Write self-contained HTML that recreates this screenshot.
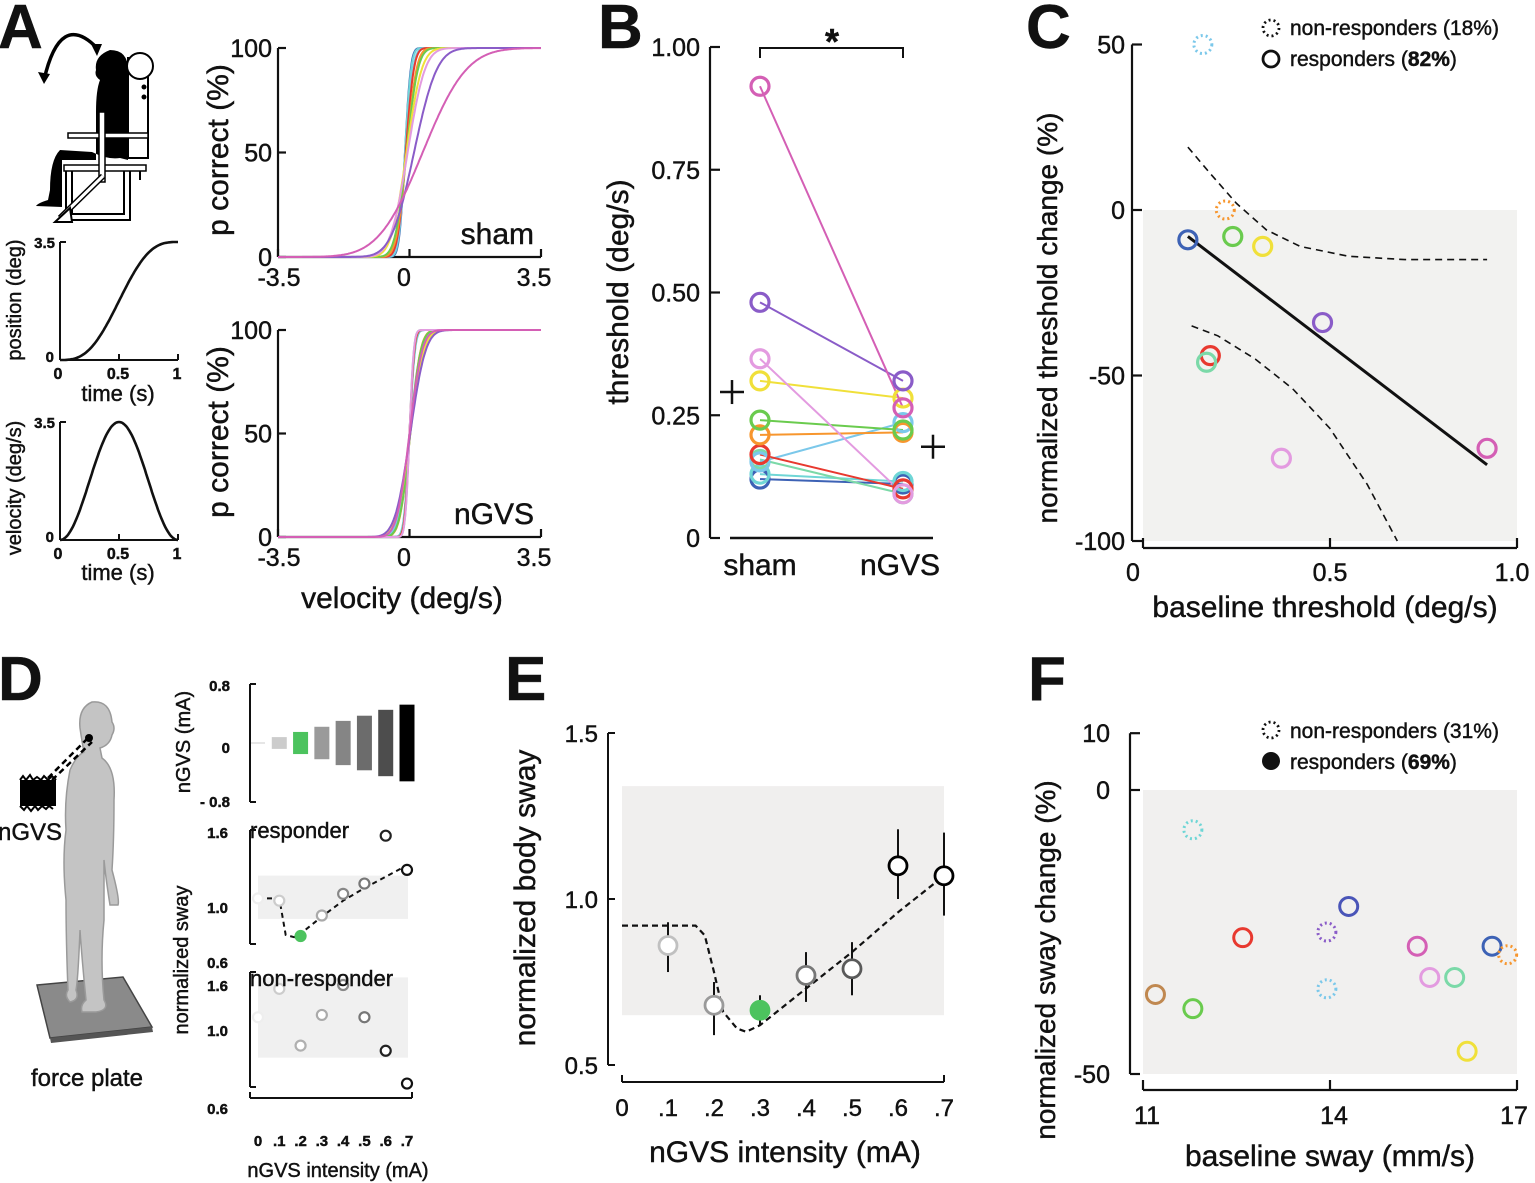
<!DOCTYPE html>
<html><head><meta charset="utf-8"><style>
html,body{margin:0;padding:0;background:#fff;}
svg{display:block;font-family:"Liberation Sans",Arial,sans-serif;}
.t{fill:#111;}
text{stroke:#111;stroke-width:0.45;}
.ax{stroke:#111;stroke-width:2.2;fill:none;}
</style></head><body>
<svg id="fig" width="1535" height="1183" viewBox="0 0 1535 1183" xmlns="http://www.w3.org/2000/svg">
<g id="plots"></g>
<!-- Panel letters -->
<text x="-2" y="48" font-size="62" font-weight="bold" class="t">A</text>
<text x="598" y="48" font-size="62" font-weight="bold" class="t">B</text>
<text x="1026" y="48" font-size="62" font-weight="bold" class="t">C</text>
<text x="-2" y="700" font-size="62" font-weight="bold" class="t">D</text>
<text x="505" y="700" font-size="62" font-weight="bold" class="t">E</text>
<text x="1028" y="700" font-size="62" font-weight="bold" class="t">F</text>

<!-- Chair illustration -->
<g>
<path d="M44 80 Q60 10 97 48" stroke="#000" stroke-width="3.5" fill="none"/>
<polygon points="38,72 50,74 44,84" fill="#000"/>
<polygon points="91,44 102,44 97,56" fill="#000"/>
<rect x="128" y="58" width="20" height="100" fill="#fff" stroke="#000" stroke-width="2"/>
<circle cx="140" cy="66" r="13" fill="#fff" stroke="#000" stroke-width="2"/>
<circle cx="144" cy="87" r="2.5" fill="#000"/><circle cx="144" cy="97" r="2.5" fill="#000"/>
<path d="M110 50 Q128 50 128 70 L128 160 L120 158 Q108 160 92 152 L60 150 Q50 160 50 190 L48 200 Q38 203 36 206 L62 207 L62 160 L96 160 L96 112 Q96 90 100 80 Q94 76 96 70 Q94 56 110 50 Z" fill="#000"/>
<rect x="64" y="165" width="82" height="6" fill="#fff" stroke="#000" stroke-width="1.5"/>
<rect x="68" y="133" width="80" height="5" fill="#fff" stroke="#000" stroke-width="1.5"/>
<path d="M66 171 L66 220 L130 220 L130 171 M72 171 L72 214 L124 214 L124 171 M140 171 L140 180" stroke="#000" stroke-width="2" fill="none"/>
<rect x="99" y="112" width="6" height="70" fill="#fff" stroke="#000" stroke-width="1.5"/>
<path d="M103 176 L60 218" stroke="#000" stroke-width="6"/><path d="M103 176 L60 218" stroke="#fff" stroke-width="3"/>
<polygon points="55,222 70,208 72,222" fill="#fff" stroke="#000" stroke-width="2"/>
</g>

<!-- Standing figure D -->
<g>
<polygon points="37,985 123,977 152,1027 50,1038" fill="#8a8a8a" stroke="#444" stroke-width="1.5"/>
<polygon points="50,1038 152,1027 153,1032 51,1043" fill="#555"/>
<path d="M92 702 Q110 700 112 722 Q116 728 112 735 Q110 745 100 748 L102 758 Q116 768 114 800 Q114 840 112 870 Q120 900 118 905 L110 905 Q106 880 104 860 L104 920 Q100 960 104 1000 Q110 1010 96 1012 L82 1012 Q80 1005 86 1000 Q82 960 80 930 Q78 980 76 990 Q80 1000 70 1002 Q64 996 68 990 Q66 940 66 900 Q62 860 66 830 Q64 800 70 770 Q76 756 84 752 Q82 742 80 728 Q78 708 92 702 Z" fill="#c4c4c4" stroke="#9a9a9a" stroke-width="1.5"/>
<rect x="20" y="780" width="36" height="26" fill="#000"/>
<path d="M20 780 l3 -4 l3 4 l4 -5 l3 5 l4 -3 l4 3 l3 -4 l4 4 l4 -4 l4 4 M20 806 l4 4 l3 -4 l4 5 l4 -5 l3 4 l4 -4 l4 3 l3 -3 l4 3" stroke="#000" stroke-width="2" fill="none"/>
<path d="M48 778 L88 738 M52 780 L92 742" stroke="#000" stroke-width="2.5" stroke-dasharray="6,4"/>
<circle cx="89" cy="738" r="4" fill="#000"/>
</g>
<text x="30" y="840" font-size="24" text-anchor="middle" class="t">nGVS</text>
<text x="87" y="1086" font-size="24" text-anchor="middle" class="t">force plate</text>

<!-- static labels -->
<text transform="translate(228,150) rotate(-90)" font-size="30" text-anchor="middle" class="t">p correct (%)</text>
<text x="534" y="244" font-size="30" text-anchor="end" class="t">sham</text>
<text transform="translate(228,432) rotate(-90)" font-size="30" text-anchor="middle" class="t">p correct (%)</text>
<text x="534" y="524" font-size="30" text-anchor="end" class="t">nGVS</text>
<text x="402" y="608" font-size="30" text-anchor="middle" class="t">velocity (deg/s)</text>
<text transform="translate(21,300) rotate(-90)" font-size="20" text-anchor="middle" class="t">position (deg)</text>
<text x="118" y="401" font-size="22" text-anchor="middle" class="t">time (s)</text>
<text transform="translate(21,488) rotate(-90)" font-size="20" text-anchor="middle" class="t">velocity (deg/s)</text>
<text x="118" y="580" font-size="22" text-anchor="middle" class="t">time (s)</text>

<text transform="translate(628,292) rotate(-90)" font-size="30" text-anchor="middle" class="t">threshold (deg/s)</text>
<text x="760" y="575" font-size="30" text-anchor="middle" class="t">sham</text>
<text x="900" y="575" font-size="30" text-anchor="middle" class="t">nGVS</text>
<text x="832" y="54" font-size="36" font-weight="bold" text-anchor="middle" class="t">*</text>
<text transform="translate(1057,318) rotate(-90)" font-size="28" text-anchor="middle" class="t">normalized threshold change (%)</text>
<text x="1325" y="617" font-size="30" text-anchor="middle" class="t">baseline threshold (deg/s)</text>
<text x="1290" y="35" font-size="21" class="t">non-responders (18%)</text>
<text x="1290" y="66" font-size="21" class="t">responders (<tspan font-weight="bold">82%</tspan>)</text>

<text transform="translate(190,742) rotate(-90)" font-size="20" text-anchor="middle" class="t">nGVS (mA)</text>
<text x="250" y="838" font-size="22" class="t">responder</text>
<text x="250" y="986" font-size="22" class="t">non-responder</text>
<text transform="translate(188,960) rotate(-90)" font-size="20" text-anchor="middle" class="t">normalized sway</text>
<text x="338" y="1177" font-size="20" text-anchor="middle" class="t">nGVS intensity (mA)</text>

<text transform="translate(535,898) rotate(-90)" font-size="30" text-anchor="middle" class="t">normalized body sway</text>
<text x="785" y="1162" font-size="30" text-anchor="middle" class="t">nGVS intensity (mA)</text>

<text transform="translate(1055,960) rotate(-90)" font-size="28" text-anchor="middle" class="t">normalized sway change (%)</text>
<text x="1330" y="1166" font-size="30" text-anchor="middle" class="t">baseline sway (mm/s)</text>
<text x="1290" y="738" font-size="21" class="t">non-responders (31%)</text>
<text x="1290" y="769" font-size="21" class="t">responders (<tspan font-weight="bold">69%</tspan>)</text>
</svg>
<script>
// ---------- data ----------
const subjectColors = ['#d45fb5','#8a5cc8','#e39be0','#f0e03a','#6acb4e','#f7962e','#e8392f','#7bc8ea','#7bd9a8','#6fd6d6','#3d62b5'];
const shamThreshold = [0.92,0.48,0.365,0.32,0.24,0.21,0.17,0.155,0.16,0.13,0.12];
const ngvsThreshold = [0.265,0.32,0.09,0.285,0.22,0.215,0.10,0.235,0.09,0.115,0.11];
const shamBias = [0.35,0.12,-0.05,-0.08,-0.08,-0.08,-0.1,-0.1,-0.1,-0.12,-0.12];
const ngvsBias = [0,0.02,0,0.02,0.02,0.02,0,0,0,0,0];
const pTicks = [0,50,100];
const velTicks = [-3.5,0,3.5];
const thrTicks = [0,0.25,0.5,0.75,1.0];
const thrTickLabels = ['0','0.25','0.50','0.75','1.00'];

const cX = [0.16,0.22,0.12,0.24,0.32,0.48,0.18,0.17,0.37,0.92];
const cY = [50,0,-9,-8,-11,-34,-44,-46,-75,-72];
const cColor = ['#7bc8ea','#f7962e','#3d62b5','#6acb4e','#f0e03a','#8a5cc8','#e8392f','#7bd9a8','#e39be0','#d45fb5'];
const cDotted = [true,true,false,false,false,false,false,false,false,false];
const cFitX = [0.12,0.92];
const cFitY = [-8,-77];
const cUpperX = [0.12,0.18,0.25,0.33,0.42,0.55,0.7,0.92];
const cUpperY = [19,11,2,-6,-11,-14,-15,-15];
const cLowerX = [0.13,0.2,0.3,0.4,0.5,0.6,0.68];
const cLowerY = [-35,-38,-45,-54,-66,-83,-100];
const cYTicks = [50,0,-50,-100];
const cXTicks = [0,0.5,1.0];
const cXTickLabels = ['0','0.5','1.0'];

const intensities = [0,0.1,0.2,0.3,0.4,0.5,0.6,0.7];
const intensityLabels = ['0','.1','.2','.3','.4','.5','.6','.7'];
const intensityColors = ['#e6e6e6','#cccccc','#4cc35e','#9a9a9a','#858585','#6c6c6c','#4d4d4d','#000000'];
const noiseAmp = [0.02,0.08,0.15,0.22,0.3,0.37,0.45,0.52];
const responderSway = [1.0,0.98,0.67,0.85,1.04,1.13,1.55,1.25];
const responderFitX = [0,0.07,0.1,0.13,0.17,0.22,0.3,0.4,0.5,0.6,0.7];
const responderFitY = [1.0,1.0,1.0,0.68,0.66,0.72,0.84,0.98,1.09,1.19,1.29];
const nonResponderSway = [1.01,1.38,0.84,1.04,1.43,1.01,0.81,0.62];
const dEdge = ['#eeeeee','#cccccc','#4cc35e','#aaaaaa','#888888','#777777','#222222','#111111'];

const eX = [0.1,0.2,0.3,0.4,0.5,0.6,0.7];
const eMean = [0.86,0.68,0.665,0.77,0.79,1.1,1.07];
const eLo = [0.78,0.59,0.62,0.69,0.71,1.0,0.95];
const eHi = [0.93,0.75,0.71,0.84,0.87,1.21,1.2];
const eEdge = ['#c0c0c0','#9a9a9a','#4cc35e','#777777','#5a5a5a','#000000','#000000'];
const eFitX = [0,0.16,0.18,0.2,0.22,0.25,0.27,0.3,0.4,0.5,0.6,0.7];
const eFitY = [0.92,0.92,0.89,0.78,0.66,0.61,0.6,0.62,0.73,0.84,0.96,1.07];
const eYTicks = [0.5,1.0,1.5];
const eYTickLabels = ['0.5','1.0','1.5'];

const fX = [11.8,14.3,13.95,12.6,15.4,16.6,16.85,15.6,16.0,13.95,11.2,11.8,16.2];
const fY = [-7,-20.5,-25,-26,-27.5,-27.5,-29,-33,-33,-35,-36,-38.5,-46];
const fColor = ['#6fd6d6','#4a55b8','#8a5cc8','#e8392f','#d45fb5','#3d62b5','#f7962e','#e39be0','#7bd9a8','#7bc8ea','#c08850','#6acb4e','#f0e03a'];
const fDotted = [true,false,true,false,false,false,true,false,false,true,false,false,false];
const fYTicks = [10,0,-50];
const fXTicks = [11,14,17];

// ---------- helpers ----------
const NS='http://www.w3.org/2000/svg';
const root=document.getElementById('plots');
function lin(d0,d1,r0,r1){return v=>r0+(v-d0)/(d1-d0)*(r1-r0);}
function mk(tag,attrs,name){
  const el=document.createElementNS(NS,tag);
  for(const k in attrs) el.setAttribute(k,attrs[k]);
  
  
  root.appendChild(el);return el;
}
function txt(x,y,s,size,anchor,name,bold){const t=mk('text',{x:x,y:y,'font-size':size,'text-anchor':anchor,fill:'#111','font-weight':bold?'bold':'normal'},name);t.textContent=s;return t;}
function line(x1,y1,x2,y2,name,w,extra){return mk('line',Object.assign({x1,y1,x2,y2,stroke:'#111','stroke-width':w||2.2},extra||{}),name);}
function poly(pts,name,attrs){return mk('polyline',Object.assign({points:pts.map(p=>p[0].toFixed(1)+','+p[1].toFixed(1)).join(' '),fill:'none'},attrs),name);}
function phi(z){const t=1/(1+0.2316419*Math.abs(z));const d=0.3989423*Math.exp(-z*z/2);let p=d*t*(0.3193815+t*(-0.3565638+t*(1.781478+t*(-1.821256+t*1.330274))));return z>0?1-p:p;}

// ---------- Panel A psychometric ----------
function psych(y100,y0,bias,name){
  const X=lin(-3.5,3.5,278,541), Y=lin(0,100,y0,y100);
  line(278,y100,278,y0,name+'-y-axis');
  line(278,y0,541,y0,name+'-x-axis');
  pTicks.forEach(v=>{line(278,Y(v),286,Y(v),name+'-y-tick');txt(272,Y(v)+9,String(v),25,'end',name+'-y-tick-label');});
  velTicks.forEach(v=>{line(X(v),y0,X(v),y0-8,name+'-x-tick');txt(v===-3.5?279:(v===0?404:534),y0+29,String(v),25,'middle',name+'-x-tick-label');});
  const th = name==='sham'?shamThreshold:ngvsThreshold;
  for(let i=th.length-1;i>=0;i--){
    const pts=[];for(let k=0;k<=300;k++){const v=-3.5+7*k/300;pts.push([X(v),Y(100*phi((v-bias[i])/th[i]))]);}
    poly(pts,name+'-curve-subject-'+(i+1),{stroke:subjectColors[i],'stroke-width':2});
  }
}
psych(48,257,shamBias,'sham');
psych(330,537,ngvsBias,'ngvs');

// stimulus profiles
function profile(y35,y0,kind){
  const X=lin(0,1,60,178),Y=lin(0,3.5,y0,y35);
  line(60,y35,60,y0,kind+'-y-axis',2);line(60,y0,178,y0,kind+'-x-axis',2);
  line(60,y35,66,y35,kind+'-y-tick',2);line(178,y0,178,y0-6,kind+'-x-tick',2);line(119,y0,119,y0-6,kind+'-x-tick',2);
  txt(55,y35+6,'3.5',15,'end',kind+'-y-tick-label',true);txt(54,y0+2,'0',15,'end',kind+'-y-tick-label',true);
  txt(58,y0+19,'0',16,'middle',kind+'-x-tick-label',true);txt(118,y0+19,'0.5',16,'middle',kind+'-x-tick-label',true);txt(177,y0+19,'1',16,'middle',kind+'-x-tick-label',true);
  const pts=[];for(let k=0;k<=100;k++){const t=k/100;const v=kind==='position'?3.5*(t-Math.sin(2*Math.PI*t)/(2*Math.PI)):3.5*(1-Math.cos(2*Math.PI*t))/2;pts.push([X(t),Y(v)]);}
  poly(pts,kind+'-profile-curve',{stroke:'#111','stroke-width':2.6});
}
profile(242,360,'position');
profile(422,540,'velocity');

// ---------- Panel B ----------
(function(){
  const Y=lin(0,1,538,47), xs=760, xn=903;
  line(710,47,710,538,'b-y-axis');
  thrTicks.forEach((v,i)=>{line(710,Y(v),720,Y(v),'b-y-tick');txt(700,Y(v)+9,thrTickLabels[i],25,'end','b-y-tick-label');});
  line(730,538,933,538,'b-x-axis',2.5);
  mk('path',{d:`M${xs} 58 L${xs} 48 L${xn} 48 L${xn} 58`,stroke:'#111','stroke-width':2,fill:'none'},'significance-bracket');
  for(let i=shamThreshold.length-1;i>=0;i--){
    line(xs,Y(shamThreshold[i]),xn,Y(ngvsThreshold[i]),'b-pair-line-subject-'+(i+1),2,{stroke:subjectColors[i]});
  }
  for(let i=shamThreshold.length-1;i>=0;i--){
    mk('circle',{cx:xs,cy:Y(shamThreshold[i]),r:9,fill:'none',stroke:subjectColors[i],'stroke-width':3.2},'b-sham-point-subject-'+(i+1));
    mk('circle',{cx:xn,cy:Y(ngvsThreshold[i]),r:9,fill:'none',stroke:subjectColors[i],'stroke-width':3.2},'b-ngvs-point-subject-'+(i+1));
  }
  const ms=shamThreshold.reduce((a,b)=>a+b,0)/shamThreshold.length, mn=ngvsThreshold.reduce((a,b)=>a+b,0)/ngvsThreshold.length;
  [[732,Y(ms)],[933,Y(mn)]].forEach(p=>{line(p[0]-12,p[1],p[0]+12,p[1],'b-mean-marker',2.5);line(p[0],p[1]-12,p[0],p[1]+12,'b-mean-marker',2.5);});
})();

// ---------- Panel C ----------
(function(){
  const X=lin(0,1,1143,1517), Y=lin(0,-100,210,541);
  mk('rect',{x:1143,y:Y(0),width:374,height:Y(-100)-Y(0),fill:'#f2f2f0'},'c-shaded-region');
  line(1132,Y(50),1132,Y(-100),'c-y-axis');
  cYTicks.forEach(v=>{line(1132,Y(v),1142,Y(v),'c-y-tick');txt(1125,Y(v)+9,String(v),25,'end','c-y-tick-label');});
  line(1143,548,1517,548,'c-x-axis');
  cXTicks.forEach((v,i)=>{line(X(v),548,X(v),538,'c-x-tick');txt(X(v)+(i===0?-10:(i===2?-5:0)),581,cXTickLabels[i],25,'middle','c-x-tick-label');});
  poly(cUpperX.map((v,i)=>[X(v),Y(cUpperY[i])]),'c-upper-confidence-band',{stroke:'#111','stroke-width':1.6,'stroke-dasharray':'7,5'});
  poly(cLowerX.map((v,i)=>[X(v),Y(cLowerY[i])]),'c-lower-confidence-band',{stroke:'#111','stroke-width':1.6,'stroke-dasharray':'7,5'});
  line(X(cFitX[0]),Y(cFitY[0]),X(cFitX[1]),Y(cFitY[1]),'c-regression-line',3);
  cX.forEach((v,i)=>{mk('circle',{cx:X(v),cy:Y(cY[i]),r:9,fill:'none',stroke:cColor[i],'stroke-width':cDotted[i]?3:3.2,'stroke-dasharray':cDotted[i]?'2,3':'none'},'c-point-subject-'+(i+1));});
  mk('circle',{cx:1271,cy:28,r:8,fill:'none',stroke:'#111','stroke-width':2.8,'stroke-dasharray':'2,3'},'c-legend-dotted-marker');
  mk('circle',{cx:1271,cy:59,r:8,fill:'none',stroke:'#111','stroke-width':2.8},'c-legend-solid-marker');
})();

// ---------- Panel D ----------
(function(){
  const X=lin(0,0.7,258,407);
  const Yn=lin(-0.8,0.8,802,684);
  line(250,684,250,802,'d-noise-y-axis',2);line(250,684,256,684,'d-noise-y-tick',2);line(250,802,256,802,'d-noise-y-tick',2);
  txt(230,691,'0.8',15,'end','d-noise-y-tick-label',true);txt(230,753,'0',15,'end','d-noise-y-tick-label',true);txt(230,807,'- 0.8',15,'end','d-noise-y-tick-label',true);
  intensities.forEach((v,i)=>{
    const a=noiseAmp[i], x=X(v);
    if(i===0){line(x-7,Yn(0),x+7,Yn(0),'d-noise-trace-0',2,{stroke:intensityColors[0]});return;}
    mk('rect',{x:x-7.5,y:Yn(a),width:15,height:Yn(-a)-Yn(a),fill:intensityColors[i]},'d-noise-trace-'+i);
  });
  const Yr=lin(0.6,1.6,944,830);
  mk('rect',{x:258,y:Yr(1.2),width:150,height:Yr(0.82)-Yr(1.2),fill:'#f0f0f0'},'d-responder-shaded');
  line(250,830,250,944,'d-responder-y-axis',2);line(250,830,256,830,'d-tick',2);line(250,944,256,944,'d-tick',2);
  txt(228,838,'1.6',15,'end','d-responder-y-tick-label',true);txt(228,913,'1.0',15,'end','d-responder-y-tick-label',true);txt(228,968,'0.6',15,'end','d-responder-y-tick-label',true);
  poly(responderFitX.map((v,i)=>[X(v),Yr(responderFitY[i])]),'d-responder-fit',{stroke:'#111','stroke-width':2,'stroke-dasharray':'5,4'});
  responderSway.forEach((v,i)=>{mk('circle',{cx:X(intensities[i]),cy:Yr(v),r:5,fill:i===2?'#4cc35e':'#fff',stroke:dEdge[i],'stroke-width':2.2},'d-responder-point-'+i);});
  const Ynr=v=>v<=1?1087-(v-0.6)/0.4*69:1018-(v-1)/0.6*46;
  mk('rect',{x:258,y:Ynr(1.53),width:150,height:Ynr(0.77)-Ynr(1.53),fill:'#f0f0f0'},'d-nonresponder-shaded');
  line(250,972,250,1087,'d-nonresponder-y-axis',2);line(250,972,256,972,'d-tick',2);line(250,1087,256,1087,'d-tick',2);
  txt(228,991,'1.6',15,'end','d-nonresponder-y-tick-label',true);txt(228,1036,'1.0',15,'end','d-nonresponder-y-tick-label',true);txt(228,1114,'0.6',15,'end','d-nonresponder-y-tick-label',true);
  nonResponderSway.forEach((v,i)=>{mk('circle',{cx:X(intensities[i]),cy:Ynr(v),r:5,fill:'#fff',stroke:dEdge[i]==='#4cc35e'?'#b0b0b0':dEdge[i],'stroke-width':2.2},'d-nonresponder-point-'+i);});
  line(250,1098,412,1098,'d-x-axis',2);line(250,1098,250,1092,'d-tick',2);line(412,1098,412,1092,'d-tick',2);
  intensities.forEach((v,i)=>txt(X(v),1146,intensityLabels[i],15,'middle','d-x-tick-label',true));
})();

// ---------- Panel E ----------
(function(){
  const X=lin(0,0.7,622,944), Y=lin(0.5,1.5,1065,733);
  mk('rect',{x:622,y:Y(1.34),width:322,height:Y(0.65)-Y(1.34),fill:'#f0efee'},'e-shaded-region');
  line(608,733,608,1065,'e-y-axis',2);
  eYTicks.forEach((v,i)=>{line(608,Y(v),615,Y(v),'e-y-tick',2);txt(598,Y(v)+9,eYTickLabels[i],24,'end','e-y-tick-label');});
  line(622,1082,944,1082,'e-x-axis',2);line(622,1082,622,1075,'e-tick',2);line(944,1082,944,1075,'e-tick',2);
  intensities.forEach((v,i)=>txt(X(v),1116,intensityLabels[i],24,'middle','e-x-tick-label'));
  poly(eFitX.map((v,i)=>[X(v),Y(eFitY[i])]),'e-fit-curve',{stroke:'#111','stroke-width':2.2,'stroke-dasharray':'6,4'});
  eX.forEach((v,i)=>{
    line(X(v),Y(eLo[i]),X(v),Y(eHi[i]),'e-error-bar-'+i,2);
    mk('circle',{cx:X(v),cy:Y(eMean[i]),r:9,fill:eEdge[i]==='#4cc35e'?'#4cc35e':'#fff',stroke:eEdge[i],'stroke-width':2.8},'e-mean-point-'+i);
  });
})();

// ---------- Panel F ----------
(function(){
  const X=lin(11,17,1143,1517), Y=lin(0,-50,790,1074);
  mk('rect',{x:1143,y:Y(0),width:374,height:Y(-50)-Y(0),fill:'#f1f0ef'},'f-shaded-region');
  line(1130,Y(10),1130,Y(-50),'f-y-axis',2.2);
  fYTicks.forEach(v=>{line(1130,Y(v),1140,Y(v),'f-y-tick');txt(1110,Y(v)+9,String(v),25,'end','f-y-tick-label');});
  line(1143,1090,1517,1090,'f-x-axis');
  fXTicks.forEach(v=>{line(X(v),1090,X(v),1080,'f-x-tick');txt(X(v)+(v===17?-3:4),1124,String(v),25,'middle','f-x-tick-label');});
  fX.forEach((v,i)=>{mk('circle',{cx:X(v),cy:Y(fY[i]),r:9,fill:'none',stroke:fColor[i],'stroke-width':3,'stroke-dasharray':fDotted[i]?'2,3':'none'},'f-point-subject-'+(i+1));});
  mk('circle',{cx:1271,cy:730,r:8,fill:'none',stroke:'#111','stroke-width':2.8,'stroke-dasharray':'2,3'},'f-legend-dotted-marker');
  mk('circle',{cx:1271,cy:761,r:9,fill:'#111'},'f-legend-filled-marker');
})();
</script>
</body></html>
